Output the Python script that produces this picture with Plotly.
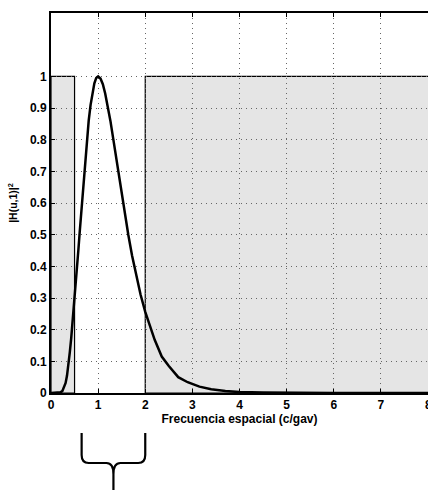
import plotly.graph_objects as go

# Curve
freq = [0.00, 0.10, 0.15, 0.20, 0.24, 0.28, 0.31, 0.34, 0.37, 0.40, 0.43, 0.46,
        0.49, 0.52, 0.55, 0.58, 0.61, 0.64, 0.67, 0.70, 0.73, 0.76, 0.80, 0.84,
        0.88, 0.92, 0.96, 1.00, 1.05, 1.10, 1.15, 1.20, 1.26, 1.33, 1.40, 1.48,
        1.56, 1.64, 1.72, 1.80, 1.90, 2.00, 2.10, 2.20, 2.35, 2.50, 2.70, 2.90,
        3.15, 3.40, 3.70, 4.00, 4.50, 5.00, 6.00, 8.00]
gain = [0.0, 0.0, 0.0005, 0.002, 0.006, 0.018, 0.032, 0.055, 0.088, 0.13, 0.175, 0.225,
        0.28, 0.335, 0.39, 0.45, 0.51, 0.57, 0.63, 0.69, 0.75, 0.80, 0.86, 0.91,
        0.95, 0.978, 0.995, 1.0, 0.993, 0.975, 0.946, 0.91, 0.86, 0.794, 0.725, 0.647,
        0.571, 0.50, 0.434, 0.376, 0.311, 0.256, 0.21, 0.168, 0.115, 0.085, 0.05, 0.034,
        0.02, 0.012, 0.006, 0.003, 0.0012, 0.0005, 0.0001, 0.0]

# Shaded (rejected) bands
bands = [(0.0, 0.5), (2.0, 8.5)]
band_level = 1.0

x_ticks = [0, 1, 2, 3, 4, 5, 6, 7, 8]
x_tick_text = ["0", "1", "2", "3", "4", "5", "6", "7", "8"]
y_ticks = [0, 0.1, 0.2, 0.3, 0.4, 0.5, 0.6, 0.7, 0.8, 0.9, 1]
y_tick_text = ["0", "0.1", "0.2", "0.3", "0.4", "0.5", "0.6", "0.7", "0.8", "0.9", "1"]

# Brace under the pass band (data x-units)
brace_left, brace_right = 0.65, 2.0

X_MAX, Y_MAX = 8.0, 1.2
FONT = "Liberation Sans"

fig = go.Figure()
fig.add_trace(go.Scatter(x=freq, y=gain, mode="lines",
                         line=dict(color="black", width=2.5),
                         hoverinfo="skip", showlegend=False))

for x0, x1 in bands:
    fig.add_shape(type="rect", xref="x", yref="y", x0=x0, x1=x1, y0=0, y1=band_level,
                  fillcolor="#e5e5e5", line=dict(color="black", width=1.2), layer="below")

W, H = 428, 490
ml, mr, mt, mb = 51, 0, 13, 97
plot_h = H - mt - mb
plot_w = W - ml - mr


def px(u):
    return u / X_MAX


def py(pix):
    # pixel row -> paper y
    return (H - mb - pix) / plot_h


L, R = px(brace_left), px(brace_right)
C = (L + R) / 2
T, M, B = py(433), py(463), py(492)
dx = 7 / plot_w
dy = 8 / plot_h


def p(x, y):
    return f"{x:.5f},{y:.5f}"


path = (f"M{p(L, T)} L{p(L, M + dy)} Q{p(L, M)} {p(L + dx, M)} L{p(C - dx, M)} "
        f"Q{p(C, M)} {p(C, M - 1.4 * dy)} L{p(C, B)} "
        f"M{p(C, M - 1.4 * dy)} Q{p(C, M)} {p(C + dx, M)} L{p(R - dx, M)} "
        f"Q{p(R, M)} {p(R, M + dy)} L{p(R, T)}")
fig.add_shape(type="path", xref="paper", yref="paper", path=path,
              line=dict(color="black", width=2.2))

# The last tick label sits on the window edge; draw it as text so it is kept (half cut)
shown_text = [f"<b>{t}</b>" for t in x_tick_text[:-1]] + [""]
fig.add_annotation(x=x_ticks[-1], xref="x", y=py(405), yref="paper",
                   text=f"<b>{x_tick_text[-1]}</b>", showarrow=False,
                   xanchor="center", yanchor="middle",
                   font=dict(family=FONT, size=12, color="black"))

axis_common = dict(showgrid=True, gridcolor="#666666", gridwidth=1, griddash="1px,4px",
                   zeroline=False, showline=True, linecolor="black", linewidth=2,
                   ticks="inside", ticklen=4, tickcolor="black", tickwidth=1,
                   tickfont=dict(family=FONT, size=12, color="black", weight="bold"))

fig.update_xaxes(range=[0, X_MAX], tickvals=x_ticks, ticktext=shown_text,
                 mirror="ticks", automargin=False,
                 title=dict(text="<b>Frecuencia espacial (c/gav)</b>", standoff=2,
                            font=dict(family=FONT, size=12, color="black")),
                 **axis_common)
fig.update_yaxes(range=[0, Y_MAX], tickvals=y_ticks,
                 ticktext=[f"<b>{t}</b>" for t in y_tick_text], automargin=False,
                 title=dict(text="<b>|H(u,1)|<sup>2</sup></b>", standoff=10,
                            font=dict(family=FONT, size=10.5, color="black")),
                 **axis_common)

fig.update_layout(width=W, height=H, margin=dict(l=ml, r=mr, t=mt, b=mb),
                  plot_bgcolor="white", paper_bgcolor="white", showlegend=False)

fig.write_html("out.html", config={"displayModeBar": False, "staticPlot": True},
               post_script="document.body.style.margin='0';"
                           "document.body.style.overflow='hidden';")
